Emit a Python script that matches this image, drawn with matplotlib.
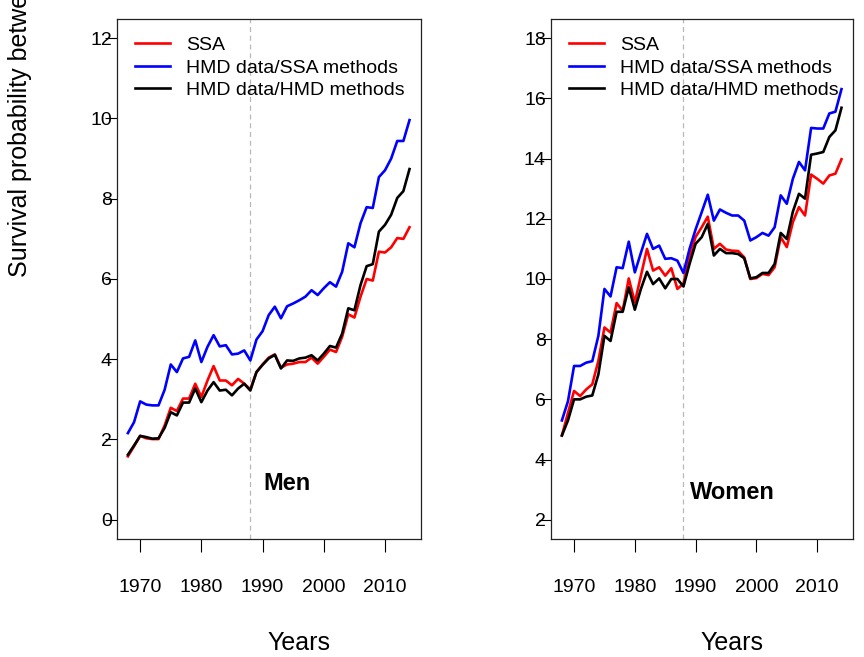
import numpy as np
from matplotlib import pyplot as plt
from matplotlib import transforms

plt.rcParams['font.family'] = ['Liberation Sans', 'DejaVu Sans']

years = list(range(1968, 2015))
names = ['SSA', 'HMD data/SSA methods', 'HMD data/HMD methods']
colors = ['#ff0000', '#0000ff', '#000000']

# men, survival probability (%)
men_ssa = [1.58, 1.83, 2.09, 2.03, 2.01, 2.01, 2.35, 2.79, 2.71, 3.02,
           3.02, 3.39, 3.06, 3.47, 3.83, 3.47, 3.47, 3.35, 3.51, 3.39,
           3.25, 3.68, 3.87, 4.04, 4.12, 3.79, 3.87, 3.89, 3.93, 3.93,
           4.04, 3.89, 4.06, 4.24, 4.18, 4.56, 5.12, 5.04, 5.56, 6.00,
           5.96, 6.68, 6.66, 6.79, 7.02, 7.00, 7.29]
men_hmd_ssa = [2.16, 2.43, 2.95, 2.87, 2.85, 2.85, 3.24, 3.87, 3.68, 4.02,
               4.06, 4.47, 3.93, 4.31, 4.60, 4.32, 4.35, 4.12, 4.14, 4.22,
               3.97, 4.49, 4.70, 5.10, 5.31, 5.02, 5.32, 5.39, 5.47, 5.56,
               5.72, 5.60, 5.77, 5.92, 5.81, 6.18, 6.89, 6.79, 7.39, 7.79,
               7.77, 8.54, 8.71, 9.00, 9.44, 9.44, 9.96]
men_hmd_hmd = [1.62, 1.85, 2.09, 2.06, 2.02, 2.03, 2.29, 2.68, 2.60, 2.92,
               2.92, 3.27, 2.93, 3.22, 3.43, 3.22, 3.24, 3.10, 3.27, 3.39,
               3.22, 3.68, 3.86, 4.02, 4.11, 3.77, 3.97, 3.96, 4.02, 4.04,
               4.10, 3.97, 4.14, 4.33, 4.29, 4.64, 5.27, 5.22, 5.85, 6.32,
               6.37, 7.18, 7.35, 7.60, 8.02, 8.19, 8.74]

# women
women_ssa = [4.80, 5.55, 6.28, 6.11, 6.33, 6.50, 7.28, 8.39, 8.22, 9.20,
             8.94, 10.02, 9.22, 10.11, 11.00, 10.28, 10.39, 10.11, 10.36, 9.67,
             9.85, 10.75, 11.40, 11.72, 12.07, 11.00, 11.17, 10.98, 10.94, 10.93,
             10.72, 10.00, 10.03, 10.17, 10.13, 10.39, 11.39, 11.06, 11.89, 12.39,
             12.11, 13.47, 13.33, 13.17, 13.44, 13.50, 13.98]
women_hmd_ssa = [5.30, 5.94, 7.11, 7.11, 7.22, 7.27, 8.11, 9.67, 9.42, 10.39,
                 10.36, 11.24, 10.22, 10.87, 11.50, 11.00, 11.11, 10.67, 10.69, 10.61,
                 10.20, 11.00, 11.65, 12.22, 12.80, 11.94, 12.31, 12.20, 12.11, 12.11,
                 11.94, 11.28, 11.39, 11.53, 11.44, 11.72, 12.78, 12.50, 13.33, 13.89,
                 13.61, 15.02, 15.00, 15.00, 15.50, 15.56, 16.31]
women_hmd_hmd = [4.80, 5.30, 6.00, 6.00, 6.09, 6.13, 6.83, 8.11, 7.94, 8.91,
                 8.91, 9.72, 8.98, 9.67, 10.24, 9.83, 10.02, 9.69, 10.00, 10.00,
                 9.75, 10.50, 11.17, 11.39, 11.83, 10.78, 11.00, 10.86, 10.86, 10.83,
                 10.69, 10.02, 10.06, 10.20, 10.20, 10.50, 11.53, 11.33, 12.24, 12.83,
                 12.67, 14.13, 14.17, 14.22, 14.72, 14.94, 15.69]

xticks = [1970, 1980, 1990, 2000, 2010]
break_year = 1988

fig = plt.figure(figsize=(8.64, 6.57), dpi=100)
ax1 = fig.add_axes([0.135, 0.1796, 0.352, 0.7915])
ax2 = fig.add_axes([0.6374, 0.1796, 0.3495, 0.7915])

panels = [
    (ax1, [men_ssa, men_hmd_ssa, men_hmd_hmd], (0, 12), 'Men', 1994, 0.9),
    (ax2, [women_ssa, women_hmd_ssa, women_hmd_hmd], (2, 18), 'Women', 1996, 2.9),
]

span = years[-1] - years[0]
for ax, series, (lo, hi), title, tx, ty in panels:
    ax.axvline(break_year, color='#b8b8b8', lw=0.9, ls=(0, (4, 3)), zorder=1)
    for vals, name, col in zip(series, names, colors):
        ax.plot(years, vals, color=col, lw=1.9, label=name, zorder=2)

    ax.set_xlim(years[0] - 0.04 * span, years[-1] + 0.04 * span)
    ext = 0.04 * (hi - lo)
    ax.set_ylim(lo - ext, hi + ext)
    ax.set_xticks(xticks)
    ax.set_yticks(np.arange(lo, hi + 1, 2))
    ax.tick_params(axis='x', direction='out', length=9.5, width=0.8, pad=19, labelsize=14)
    ax.tick_params(axis='y', direction='out', length=8.5, width=0.8, pad=-5, labelsize=14)
    for s in ax.spines.values():
        s.set_linewidth(0.9)
        s.set_color('#222222')

    ax.text(tx, ty, title, fontsize=17, fontweight='bold', ha='center', va='center')

    leg = ax.legend(loc='upper left', bbox_to_anchor=(0.06, 0.966), frameon=False,
                    fontsize=14, handlelength=1.8, handletextpad=0.85,
                    labelspacing=0.25, borderpad=0, borderaxespad=0)

    trans = transforms.blended_transform_factory(ax.transData, fig.transFigure)
    ax.text(1996, 0.0215, 'Years', transform=trans, fontsize=18, ha='center', va='center')

fig.text(20 / 864, 0.578, 'Survival probability between ages 65 and 95 (%)',
         rotation=90, ha='center', va='bottom', fontsize=18)

plt.savefig('out.png', dpi=100)
